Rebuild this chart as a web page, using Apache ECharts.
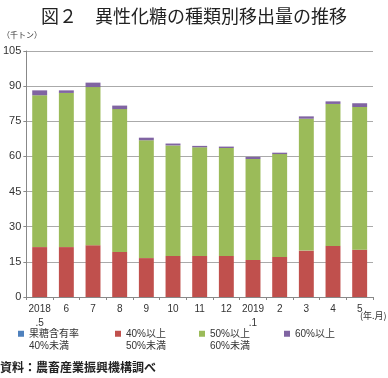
<!DOCTYPE html>
<html>
<head>
<meta charset="utf-8">
<script src="https://cdn.jsdelivr.net/npm/echarts@6/dist/echarts.min.js"></script>
<style>
  html, body { margin: 0; padding: 0; background: #fff; }
  #chart { width: 388px; height: 378px; }
</style>
</head>
<body>
<div id="chart"></div>
<script>
  // 月（年.月）
  var months = ['2018\n.5', '6', '7', '8', '9', '10', '11', '12', '2019\n.1', '2', '3', '4', '5']
  // 果糖含有率別の移出量（千トン）
  var below40 = [0, 0, 0, 0, 0, 0, 0, 0, 0, 0, 0, 0, 0]
  var from40to50 = [21.3, 21.3, 22.1, 19.2, 16.6, 17.5, 17.5, 17.5, 15.8, 17.1, 19.8, 21.8, 20.2]
  var from50to60 = [64.8, 65.8, 67.5, 61.0, 50.3, 47.2, 46.4, 46.1, 43.1, 43.9, 56.3, 60.6, 60.9]
  var over60 = [2.1, 1.1, 1.9, 1.5, 1.1, 0.8, 0.6, 0.6, 0.9, 0.6, 1.0, 1.1, 1.6]
  var yTicks = [0, 15, 30, 45, 60, 75, 90, 105]

  var names = ['果糖含有率40%未満', '40%以上50%未満', '50%以上60%未満', '60%以上']
  // 凡例は2行表示（先頭の空行でアイコンを1行目に揃える）
  var labels = ['\n果糖含有率\n40%未満', '\n40%以上\n50%未満', '\n50%以上\n60%未満', '\n60%以上\n']
  var colors = ['#4F81BD', '#C0504D', '#9BBB59', '#8064A2']
  var legendLeft = [18, 115, 199, 284]

  var chart = echarts.init(document.getElementById('chart'))
  var fontJp = '"Liberation Sans", "Noto Sans CJK JP", sans-serif'

  var legends = names.map(function(n, i) {
    return {
      data: [n],
      left: legendLeft[i],
      top: 315,
      padding: 0,
      itemWidth: 6,
      itemHeight: 6,
      icon: 'rect',
      formatter: function() { return labels[i] },
      textStyle: {
        fontFamily: fontJp,
        fontSize: 10,
        color: '#333',
        lineHeight: 12.5
      }
    }
  })

  var seriesData = [below40, from40to50, from50to60, over60]
  var series = seriesData.map(function(d, i) {
    return {
      name: names[i],
      type: 'bar',
      stack: 'total',
      barWidth: '56%',
      data: d,
      itemStyle: { color: colors[i] }
    }
  })

  var option = {
    animation: false,
    color: colors,
    title: {
      text: '図２　異性化糖の種類別移出量の推移',
      left: 'center',
      top: 2,
      textStyle: {
        fontFamily: '"Noto Sans CJK JP", sans-serif',
        fontSize: 18,
        fontWeight: 'normal',
        color: '#222'
      }
    },
    legend: legends,
    grid: {
      left: 26,
      right: 15,
      top: 51,
      bottom: 81,
      containLabel: false
    },
    xAxis: {
      type: 'category',
      data: months,
      axisLine: { lineStyle: { color: '#888' } },
      axisTick: { show: true, length: 3, lineStyle: { color: '#888' } },
      axisLabel: {
        interval: 0,
        color: '#333',
        fontSize: 10,
        fontFamily: fontJp,
        margin: 5,
        lineHeight: 14
      }
    },
    yAxis: {
      type: 'value',
      min: yTicks[0],
      max: yTicks[yTicks.length - 1],
      interval: 15,
      axisLine: { show: true, lineStyle: { color: '#888' } },
      axisTick: { show: true, length: 3, lineStyle: { color: '#888' } },
      axisLabel: {
        color: '#333',
        fontSize: 11,
        fontFamily: fontJp,
        margin: 5
      },
      splitLine: { lineStyle: { color: '#aaa' } }
    },
    graphic: [
      {
        type: 'text',
        left: 2,
        top: 31,
        style: { text: '（千トン）', font: '8px "Noto Sans CJK JP"', fill: '#333' }
      },
      {
        type: 'text',
        left: 360,
        top: 311,
        style: { text: '(年.月)', font: '9px "Noto Sans CJK JP"', fill: '#333' }
      },
      {
        type: 'text',
        left: 0,
        top: 361,
        style: { text: '資料：農畜産業振興機構調べ', font: 'bold 12px "Noto Sans CJK JP"', fill: '#222' }
      }
    ],
    series: series
  }
  chart.setOption(option)
</script>
</body>
</html>
